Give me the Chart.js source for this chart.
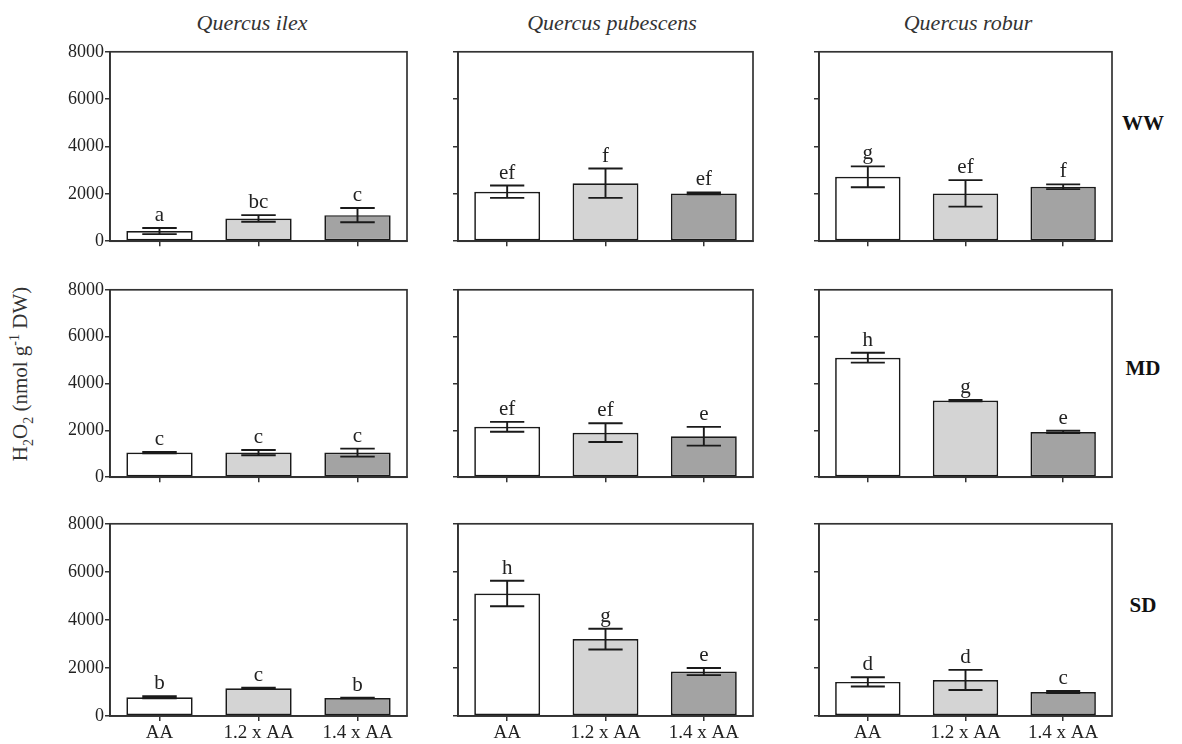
<!DOCTYPE html>
<html><head><meta charset="utf-8">
<script src="https://cdn.jsdelivr.net/npm/chart.js@4.4.1/dist/chart.umd.min.js"></script>
<style>
html,body{margin:0;padding:0;background:#fff;}
body{width:1182px;height:744px;position:relative;overflow:hidden;font-family:"Liberation Serif","Times New Roman",serif;color:#222;}
canvas{position:absolute;}
.sp{position:absolute;top:10px;width:300px;text-align:center;font-style:italic;font-size:22px;line-height:26px;color:#333;}
.rw{position:absolute;font-weight:bold;font-size:21px;line-height:26px;transform:translate(-50%,-50%);color:#111;}
.yt{position:absolute;left:22px;top:374px;transform:translate(-50%,-50%) rotate(-90deg);white-space:nowrap;font-size:21px;color:#333;}
.yt sub,.yt sup{font-size:14px;}
</style></head><body>
<script>
// ---- data ----
const categories = ['AA', '1.2 x AA', '1.4 x AA'];
const species = ['Quercus ilex', 'Quercus pubescens', 'Quercus robur'];
const treatments = ['WW', 'MD', 'SD'];
const yTickValues = [0, 2000, 4000, 6000, 8000];

const ilexWW = [430, 960, 1100];
const ilexWWErr = [130, 140, 300];
const ilexWWLetters = ['a', 'bc', 'c'];
const pubWW = [2090, 2450, 2020];
const pubWWErr = [260, 620, 40];
const pubWWLetters = ['ef', 'f', 'ef'];
const robWW = [2720, 2020, 2300];
const robWWErr = [440, 560, 100];
const robWWLetters = ['g', 'ef', 'f'];

const ilexMD = [1050, 1050, 1050];
const ilexMDErr = [30, 110, 170];
const ilexMDLetters = ['c', 'c', 'c'];
const pubMD = [2150, 1900, 1750];
const pubMDErr = [210, 400, 400];
const pubMDLetters = ['ef', 'ef', 'e'];
const robMD = [5100, 3270, 1930];
const robMDErr = [210, 30, 50];
const robMDLetters = ['h', 'g', 'e'];

const ilexSD = [780, 1150, 750];
const ilexSDErr = [40, 30, 10];
const ilexSDLetters = ['b', 'c', 'b'];
const pubSD = [5100, 3200, 1850];
const pubSDErr = [530, 430, 150];
const pubSDLetters = ['h', 'g', 'e'];
const robSD = [1420, 1500, 1000];
const robSDErr = [190, 420, 40];
const robSDLetters = ['d', 'd', 'c'];

const panels = [
  [[ilexWW, ilexWWErr, ilexWWLetters], [pubWW, pubWWErr, pubWWLetters], [robWW, robWWErr, robWWLetters]],
  [[ilexMD, ilexMDErr, ilexMDLetters], [pubMD, pubMDErr, pubMDLetters], [robMD, robMDErr, robMDLetters]],
  [[ilexSD, ilexSDErr, ilexSDLetters], [pubSD, pubSDErr, pubSDLetters], [robSD, robSDErr, robSDLetters]]
];

// ---- layout (pixels) ----
const colBox = [[110, 407], [458, 753], [819, 1112]];
const rowBox = [[46, 243], [284, 479], [518, 716]];
const titleCenters = [252, 612, 968];
const rowLabelY = [123, 368, 605];
const barColors = ['#ffffff', '#d4d4d4', '#a3a3a3'];
const FONT = 'Liberation Serif';

const framePlugin = {
  id: 'frame',
  afterDraw(chart) {
    const a = chart.chartArea, ctx = chart.ctx;
    ctx.save();
    ctx.strokeStyle = '#333';
    ctx.lineWidth = 1.7;
    ctx.strokeRect(a.left, a.top, a.right - a.left, a.bottom - a.top);
    ctx.restore();
  }
};

const errPlugin = {
  id: 'errLetters',
  afterDatasetsDraw(chart, args, opts) {
    const ctx = chart.ctx, ys = chart.scales.y;
    const meta = chart.getDatasetMeta(0);
    const vals = chart.data.datasets[0].data;
    ctx.save();
    ctx.strokeStyle = '#1a1a1a';
    ctx.lineWidth = 1.9;
    meta.data.forEach((bar, i) => {
      const e = opts.err[i];
      const yTop = ys.getPixelForValue(vals[i] + e);
      const yBot = ys.getPixelForValue(vals[i] - e);
      const half = bar.width * 0.26;
      ctx.beginPath();
      ctx.moveTo(bar.x, yTop); ctx.lineTo(bar.x, yBot);
      ctx.moveTo(bar.x - half, yTop); ctx.lineTo(bar.x + half, yTop);
      ctx.moveTo(bar.x - half, yBot); ctx.lineTo(bar.x + half, yBot);
      ctx.stroke();
      ctx.fillStyle = '#222';
      ctx.font = '21px "' + FONT + '"';
      ctx.textAlign = 'center';
      ctx.textBaseline = 'alphabetic';
      ctx.fillText(opts.letters[i], bar.x, yTop - 7);
    });
    ctx.restore();
  }
};

for (let r = 0; r < 3; r++) {
  for (let c = 0; c < 3; c++) {
    const [vals, errs, letters] = panels[r][c];
    const padL = c === 0 ? 62 : 8;
    const padR = 6, padT = 6;
    const padB = r === 2 ? 28 : 10;
    const w = colBox[c][1] - colBox[c][0];
    const h = rowBox[r][1] - rowBox[r][0];
    const cv = document.createElement('canvas');
    cv.width = w + padL + padR;
    cv.height = h + padT + padB;
    cv.style.left = (colBox[c][0] - padL) + 'px';
    cv.style.top = (rowBox[r][0] - padT) + 'px';
    cv.style.width = cv.width + 'px';
    cv.style.height = cv.height + 'px';
    document.body.appendChild(cv);
    new Chart(cv, {
      type: 'bar',
      data: {
        labels: categories,
        datasets: [{
          data: vals,
          backgroundColor: barColors,
          borderColor: '#1a1a1a',
          borderWidth: 1.7,
          borderSkipped: false,
          categoryPercentage: 1,
          barPercentage: 0.67
        }]
      },
      options: {
        responsive: false,
        animation: false,
        devicePixelRatio: 1,
        layout: { padding: { top: padT, right: padR, left: 0, bottom: 0 } },
        plugins: {
          legend: { display: false },
          tooltip: { enabled: false },
          errLetters: { err: errs, letters: letters }
        },
        scales: {
          x: {
            type: 'category',
            offset: true,
            afterFit(s) { s.height = padB; },
            grid: { offset: false, drawOnChartArea: false, drawTicks: true, tickLength: 5, color: '#333', lineWidth: 1.5 },
            border: { color: '#333', width: 1.7 },
            ticks: {
              display: r === 2,
              color: '#222',
              padding: 1,
              maxRotation: 0,
              font: { family: FONT, size: 19 }
            }
          },
          y: {
            min: 0,
            max: 8000,
            afterFit(s) { s.width = padL; },
            afterBuildTicks(s) { s.ticks = yTickValues.map(v => ({ value: v })); },
            grid: { drawOnChartArea: false, drawTicks: true, tickLength: 5, color: '#333', lineWidth: 1.5 },
            border: { color: '#333', width: 1.7 },
            ticks: {
              color: '#222',
              padding: 1,
              font: { family: FONT, size: 18 },
              callback: (v) => c === 0 ? String(v) : ''
            }
          }
        }
      },
      plugins: [framePlugin, errPlugin]
    });
  }
}

// titles and labels as HTML text
species.forEach((s, c) => {
  const d = document.createElement('div');
  d.className = 'sp';
  d.textContent = s;
  d.style.left = (titleCenters[c] - 150) + 'px';
  document.body.appendChild(d);
});
treatments.forEach((t, r) => {
  const d = document.createElement('div');
  d.className = 'rw';
  d.textContent = t;
  d.style.left = '1143px';
  d.style.top = rowLabelY[r] + 'px';
  document.body.appendChild(d);
});
</script>
<div class="yt">H<sub>2</sub>O<sub>2</sub> (nmol g<sup>-1</sup> DW)</div>
</body></html>
